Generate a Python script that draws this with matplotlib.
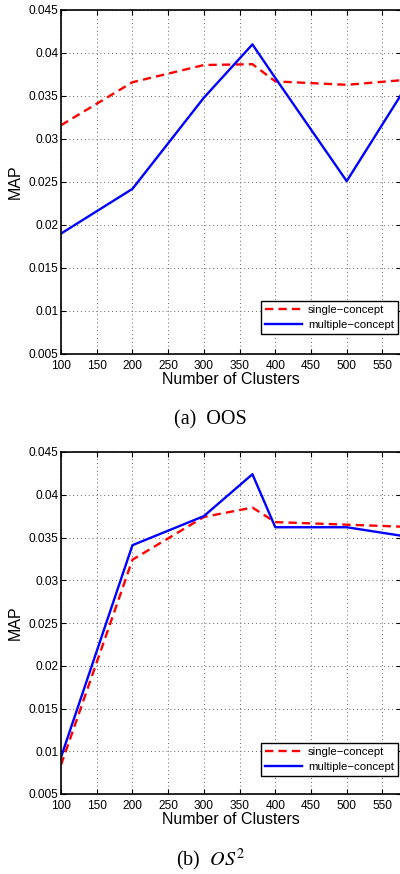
import numpy as np
import matplotlib
matplotlib.use("Agg")
import matplotlib.pyplot as plt

plt.rcParams['font.family'] = ['Liberation Sans', 'DejaVu Sans']
plt.rcParams['mathtext.fontset'] = 'stix'

# number of clusters
clusters = [100, 200, 300, 368, 400, 500, 600]

# (a) OOS
oos_single = [0.0316, 0.0366, 0.0386, 0.0387, 0.0367, 0.0363, 0.0370]
oos_multi = [0.0190, 0.0242, 0.0348, 0.0410, 0.0371, 0.0251, 0.0383]

# (b) OS^2
os2_single = [0.0084, 0.0324, 0.0374, 0.0385, 0.0368, 0.0365, 0.0362]
os2_multi = [0.0093, 0.0341, 0.0375, 0.0424, 0.0362, 0.0362, 0.0349]

xticks = [100, 150, 200, 250, 300, 350, 400, 450, 500, 550]
yticks = [0.005, 0.01, 0.015, 0.02, 0.025, 0.03, 0.035, 0.04, 0.045]
ytick_labels = ["0.005", "0.01", "0.015", "0.02", "0.025", "0.03", "0.035", "0.04", "0.045"]

fig = plt.figure(figsize=(4.0, 8.74), dpi=100)
W, H = 400.0, 874.0


def draw(ax, single, multi, ax_h, leg_gap):
	ax.plot(clusters, single, color='red', linestyle=(0, (3.5, 2.2)), linewidth=1.7, label='single\u2212concept')
	ax.plot(clusters, multi, color='blue', linestyle='-', linewidth=1.7, label='multiple\u2212concept')
	ax.set_xlim(100, 576)
	ax.set_ylim(0.005, 0.045)
	ax.set_xticks(xticks)
	ax.set_yticks(yticks)
	ax.set_yticklabels(ytick_labels)
	ax.tick_params(direction='in', top=True, right=True, length=3.5, width=0.8, labelsize=8.6)
	ax.tick_params(axis='x', pad=4)
	ax.tick_params(axis='y', pad=2)
	ax.grid(True, color='#666666', linestyle=(0, (1, 3)), linewidth=0.7)
	for s in ax.spines.values():
		s.set_linewidth(1.2)
	ax.set_xlabel('Number of Clusters', fontsize=11.5, labelpad=0)
	ax.set_ylabel('MAP', fontsize=11.5, labelpad=4)
	leg = ax.legend(loc='lower right', bbox_to_anchor=(1 - 3 / 340, leg_gap / ax_h),
		fontsize=8.2, fancybox=False, framealpha=1, edgecolor='black', borderaxespad=0,
		handlelength=3.3, handletextpad=0.5, borderpad=0.35, labelspacing=0.45)
	leg.get_frame().set_linewidth(1.0)


left = 61 / W
width = (401 - 61) / W

ax1 = fig.add_axes([left, 1 - 354 / H, width, (354 - 10) / H])
draw(ax1, oos_single, oos_multi, 344, 20)

ax2 = fig.add_axes([left, 1 - 794 / H, width, (794 - 452) / H])
draw(ax2, os2_single, os2_multi, 342, 18)

fig.text(210 / W, 1 - 420 / H, '(a)  OOS', family='Liberation Serif', fontsize=14.5, ha='center', va='center')
fig.text(210 / W, 1 - 860 / H, '(b)  $OS^2$', family='Liberation Serif', fontsize=14.5, ha='center', va='center')

fig.savefig('out.png', dpi=100)
